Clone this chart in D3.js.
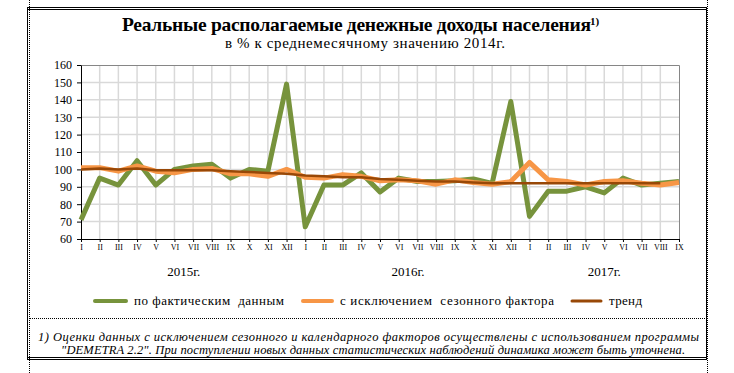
<!DOCTYPE html>
<html>
<head>
<meta charset="utf-8">
<script src="https://cdn.jsdelivr.net/npm/d3@7"></script>
<style>
  body { margin: 0; background: #fff; }
  svg { display: block; }
</style>
</head>
<body>
<div id="chart"></div>
<script>
// months, 2015 I .. 2017 IX
var periods = ["I","II","III","IV","V","VI","VII","VIII","IX","X","XI","XII",
               "I","II","III","IV","V","VI","VII","VIII","IX","X","XI","XII",
               "I","II","III","IV","V","VI","VII","VIII","IX"];
var years = ["2015г.", "2016г.", "2017г."];
var monthsPerYear = [12, 12, 9];

var actual = [71, 95, 91, 105, 91, 100, 102, 103, 95, 100, 99, 149,
              67, 91, 91, 98, 87, 95, 93, 93, 93.5, 94.5, 92, 139,
              73, 87.5, 87.5, 90, 86.5, 95, 91, 92, 93];
var seasonal = [101, 101, 99, 102, 99, 98, 100, 100.5, 97.5, 97.5, 96, 100,
                95.5, 95, 97, 96, 93.5, 94, 93.5, 91.5, 94, 92.5, 91.5, 93,
                104, 94, 93, 91, 93, 93.5, 92, 91, 92.5];
// trend stops at VIII 2017
var trend = [100, 100.5, 100, 100.5, 99.5, 99.5, 99.5, 99.5, 99, 98.5, 98, 97.5,
             96.5, 96, 95.5, 95.5, 94.5, 94, 93.5, 93, 93, 92.5, 92, 92,
             92, 92, 92, 92, 92, 92, 92, 92];

var yTicks = [60, 70, 80, 90, 100, 110, 120, 130, 140, 150, 160];

var legendLabels = ["по фактическим  данным", "с исключением  сезонного фактора", "тренд"];
var titleText = "Реальные располагаемые денежные доходы населения";
var subtitleText = "в % к среднемесячному значению 2014г.";
var noteLines = ["1) Оценки данных с исключением сезонного и календарного факторов осуществлены с использованием программы",
                 "\"DEMETRA 2.2\". При поступлении новых данных статистических наблюдений динамика может быть уточнена."];

var FONT = "'Liberation Serif', 'DejaVu Serif', serif";

function init()
{
    var w = 734;
    var h = 373;
    var left = 81, right = 679, top = 65, bottom = 239;
    var colors = ["#77933c", "#f79646", "#984807"];

    var svg = d3.select("#chart")
                .append("svg")
                .attr("width", w)
                .attr("height", h)
                .attr("font-family", FONT);

    // frame
    var line = function(x1, y1, x2, y2, dash, width) {
        svg.append("line")
           .attr("x1", x1).attr("y1", y1).attr("x2", x2).attr("y2", y2)
           .attr("stroke", "#000")
           .attr("stroke-width", width || 1)
           .attr("stroke-dasharray", dash || null);
    };
    line(27, 7.5, 707, 7.5);
    line(27, 9.5, 707, 9.5);
    line(27, 357.5, 707, 357.5);
    line(27, 359.5, 707, 359.5);
    line(27.5, 7, 27.5, 360);
    line(29.5, 0, 29.5, 373, "1,1");
    line(706.5, 7, 706.5, 360);
    line(707.5, 0, 707.5, 373, "1,1");
    line(30, 318.5, 706, 318.5, "1,1");

    // titles
    svg.append("text")
       .attr("x", 122).attr("y", 31)
       .attr("textLength", 469).attr("lengthAdjust", "spacing")
       .style("font-family", FONT)
       .style("font-size", "19.5px").style("font-weight", "bold")
       .text(titleText);
    svg.append("text")
       .attr("x", 590).attr("y", 25)
       .style("font-family", FONT)
       .style("font-size", "11px").style("font-weight", "bold")
       .text("1)");
    svg.append("text")
       .attr("x", 225).attr("y", 48)
       .attr("textLength", 280).attr("lengthAdjust", "spacing")
       .style("font-family", FONT)
       .style("font-size", "15px")
       .text(subtitleText);

    var x = d3.scalePoint()
              .domain(d3.range(periods.length))
              .range([left, right]);
    var y = d3.scaleLinear()
              .domain([60, 160])
              .range([bottom, top]);

    // grid
    svg.append("g")
       .selectAll("line")
       .data(yTicks.slice(1, -1))
       .enter()
       .append("line")
       .attr("x1", left).attr("x2", right)
       .attr("y1", function(d) { return y(d); })
       .attr("y2", function(d) { return y(d); })
       .attr("stroke", "#d9d9d9")
       .attr("stroke-width", 1.5);
    svg.append("g")
       .selectAll("line")
       .data(d3.range(1, periods.length - 1))
       .enter()
       .append("line")
       .attr("x1", function(d) { return x(d); })
       .attr("x2", function(d) { return x(d); })
       .attr("y1", top).attr("y2", bottom)
       .attr("stroke", "#d9d9d9")
       .attr("stroke-width", 1.5);
    svg.append("path")
       .attr("d", "M" + left + "," + (top + 0.5) + "H" + (right + 0.5) + "V" + bottom)
       .attr("fill", "none")
       .attr("stroke", "#868686")
       .attr("stroke-width", 1);

    // axes
    var yAxis = svg.append("g")
       .attr("transform", "translate(" + left + ",0)")
       .call(d3.axisLeft(y).tickValues(yTicks).tickSize(4).tickPadding(5).tickSizeOuter(0));
    yAxis.attr("font-family", FONT);
    yAxis.selectAll("text").style("font-family", FONT).style("font-size", "12px");

    var xAxis = svg.append("g")
       .attr("transform", "translate(0," + bottom + ")")
       .call(d3.axisBottom(x).tickFormat(function(i) { return periods[i]; })
               .tickSize(3).tickPadding(2).tickSizeOuter(0));
    xAxis.attr("font-family", FONT);
    xAxis.selectAll("text").style("font-family", FONT).style("font-size", "8px");
    svg.selectAll(".domain").attr("stroke", "#000");

    // year labels
    var starts = [];
    monthsPerYear.reduce(function(acc, m) { starts.push(acc); return acc + m; }, 0);
    svg.selectAll(".year")
       .data(years)
       .enter()
       .append("text")
       .attr("class", "year")
       .attr("x", function(d, i) {
           return (x(starts[i]) + x(starts[i] + monthsPerYear[i] - 1)) / 2;
       })
       .attr("y", 276)
       .attr("text-anchor", "middle")
       .style("font-family", FONT)
       .style("font-size", "13px")
       .text(function(d) { return d; });

    // series
    var gen = d3.line()
                .x(function(d, i) { return x(i); })
                .y(function(d) { return y(d); });
    var series = [actual, seasonal, trend];
    var widths = [5, 5, 2.5];
    svg.append("g")
       .selectAll("path")
       .data(series)
       .enter()
       .append("path")
       .attr("d", gen)
       .attr("fill", "none")
       .attr("stroke", function(d, i) { return colors[i]; })
       .attr("stroke-width", function(d, i) { return widths[i]; })
       .attr("stroke-linejoin", "round");

    // legend
    var legendPos = [[93, 128, 134, 150], [301, 334, 340, 214], [570, 603, 609, 33]];
    var lg = svg.append("g")
                .selectAll("g")
                .data(legendLabels)
                .enter()
                .append("g");
    lg.append("line")
      .attr("x1", function(d, i) { return legendPos[i][0] + 2; })
      .attr("x2", function(d, i) { return legendPos[i][1] - 2; })
      .attr("y1", 301).attr("y2", 301)
      .attr("stroke", function(d, i) { return colors[i]; })
      .attr("stroke-width", function(d, i) { return i == 2 ? 3 : 4; })
      .attr("stroke-linecap", "round");
    lg.append("text")
      .attr("x", function(d, i) { return legendPos[i][2]; })
      .attr("y", 305)
      .attr("textLength", function(d, i) { return legendPos[i][3]; })
      .attr("lengthAdjust", "spacing")
      .style("font-family", FONT)
      .style("font-size", "13px")
      .style("white-space", "pre")
      .text(function(d) { return d; });

    // footnote
    var notePos = [[38, 341, 661], [61, 354, 624]];
    svg.selectAll(".note")
       .data(noteLines)
       .enter()
       .append("text")
       .attr("class", "note")
       .attr("x", function(d, i) { return notePos[i][0]; })
       .attr("y", function(d, i) { return notePos[i][1]; })
       .attr("textLength", function(d, i) { return notePos[i][2]; })
       .attr("lengthAdjust", "spacing")
       .style("font-family", FONT)
       .style("font-size", "12.5px")
       .style("font-style", "italic")
       .text(function(d) { return d; });
}
window.onload = init;
</script>
</body>
</html>
